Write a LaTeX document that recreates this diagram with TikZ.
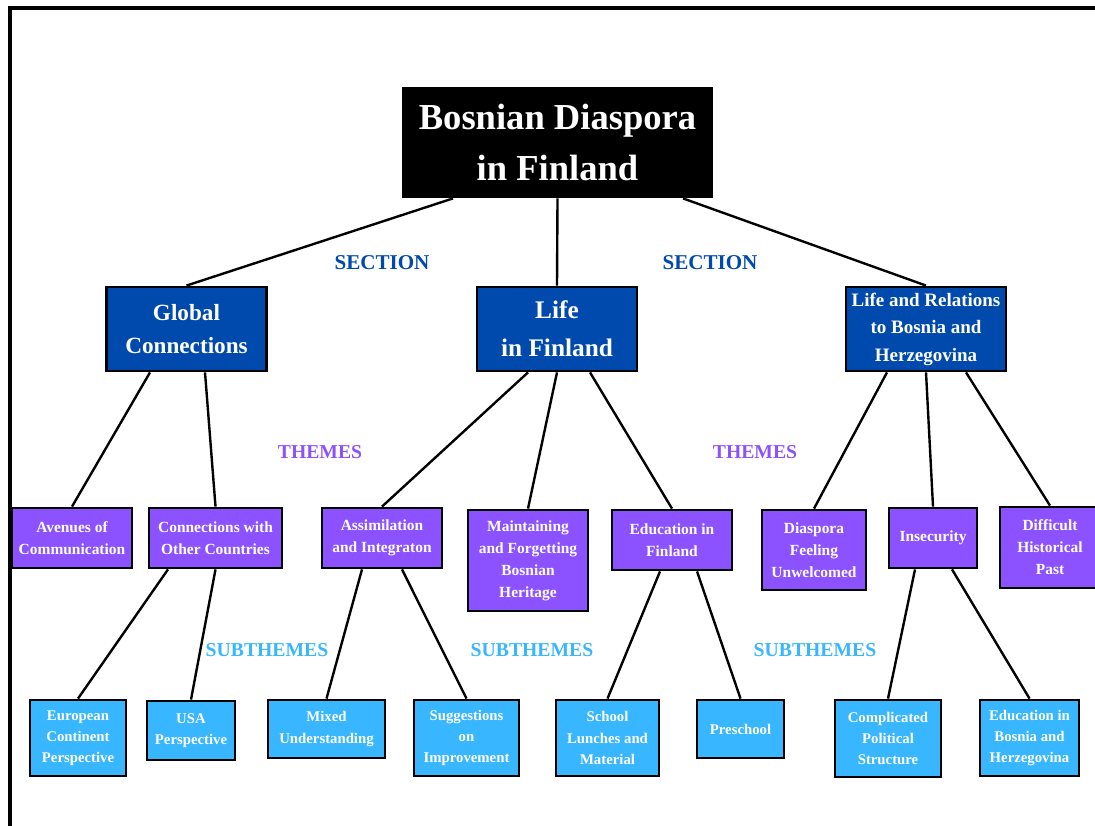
\documentclass[tikz,border=0pt]{standalone}
\usepackage{fontspec}
\setmainfont{Liberation Serif}
\usepackage{tikz}
\usetikzlibrary{positioning}
\definecolor{secblue}{HTML}{004AAD}
\definecolor{thpurple}{HTML}{8C52FF}
\definecolor{subblue}{HTML}{38B6FF}
\tikzstyle{box}       = [draw=black, line width=2pt, inner sep=0pt, align=center, text=white]
\tikzstyle{topbox}    = [box, fill=black, font=\bfseries\fontsize{26}{36}\selectfont]
\tikzstyle{section}   = [box, fill=secblue]
\tikzstyle{theme}     = [box, fill=thpurple, font=\bfseries\fontsize{11}{15.6}\selectfont]
\tikzstyle{subtheme}  = [box, fill=subblue, font=\bfseries\fontsize{10.5}{15}\selectfont]
\tikzstyle{edge}      = [line width=1.7pt]
\tikzstyle{level}     = [font=\bfseries\fontsize{14}{16}\selectfont]

\begin{document}
\begin{tikzpicture}[x=0.025cm, y=-0.025cm]

\useasboundingbox (0,0) rectangle (1095,826);
\fill[white] (0,0) rectangle (1095,826);
\draw[line width=2.4pt] (10,830) -- (10,8) -- (1100,8);

% root
\node[topbox, minimum width=7.725cm, minimum height=2.725cm] (R) at (557.5,142.5) {Bosnian Diaspora\\in Finland};

% sections
\node[section, minimum width=4cm, minimum height=2.1cm, font=\bfseries\fontsize{16.5}{23.5}\selectfont] (S1) at (186.5,329) {Global\\Connections};
\node[section, minimum width=4cm, minimum height=2.1cm, font=\bfseries\fontsize{18}{27}\selectfont] (S2) at (557,329) {Life\\in Finland};
\node[section, minimum width=4cm, minimum height=2.1cm, font=\bfseries\fontsize{13.5}{19.6}\selectfont] (S3) at (926,329) {Life and Relations\\to Bosnia and\\Herzegovina};

% themes
\node[theme, minimum width=3cm, minimum height=1.5cm] (T1) at (72,538) {Avenues of\\Communication};
\node[theme, minimum width=3.325cm, minimum height=1.5cm] (T2) at (215.5,538) {Connections with\\Other Countries};
\node[theme, minimum width=3cm, minimum height=1.5cm] (T3) at (382,538) {Assimilation\\and Integraton};
\node[theme, minimum width=3cm, minimum height=2.525cm] (T4) at (528,560.5) {Maintaining\\and Forgetting\\Bosnian\\Heritage};
\node[theme, minimum width=3cm, minimum height=1.5cm] (T5) at (672,540) {Education in\\Finland};
\node[theme, minimum width=2.6cm, minimum height=2cm] (T6) at (814,550) {Diaspora\\Feeling\\Unwelcomed};
\node[theme, minimum width=2.2cm, minimum height=1.5cm] (T7) at (933,538) {Insecurity};
\node[theme, minimum width=2.5cm, minimum height=2.025cm] (T8) at (1050,547.5) {Difficult\\Historical\\Past};

% subthemes
\node[subtheme, minimum width=2.4cm, minimum height=1.9cm] (U1) at (78,738) {European\\Continent\\Perspective};
\node[subtheme, minimum width=2.2cm, minimum height=1.475cm] (U2) at (191,730.5) {USA\\Perspective};
\node[subtheme, minimum width=2.925cm, minimum height=1.45cm] (U3) at (326.5,729) {Mixed\\Understanding};
\node[subtheme, minimum width=2.625cm, minimum height=1.9cm] (U4) at (466.5,738) {Suggestions\\on\\Improvement};
\node[subtheme, minimum width=2.575cm, minimum height=1.9cm] (U5) at (607.5,738) {School\\Lunches and\\Material};
\node[subtheme, minimum width=2.175cm, minimum height=1.45cm] (U6) at (740.5,729) {Preschool};
\node[subtheme, minimum width=2.65cm, minimum height=1.925cm] (U7) at (888,738.5) {Complicated\\Political\\Structure};
\node[subtheme, minimum width=2.475cm, minimum height=1.9cm] (U8) at (1029.5,738) {Education in\\Bosnia and\\Herzegovina};

% level labels
\node[level, text=secblue, font=\bfseries\fontsize{15}{17}\selectfont] (L1) at (382,263) {SECTION};
\node[level, text=secblue, font=\bfseries\fontsize{15}{17}\selectfont] (L2) at (710,263) {SECTION};
\node[level, text=thpurple] (L3) at (320,452) {THEMES};
\node[level, text=thpurple] (L4) at (755,452) {THEMES};
\node[level, text=subblue] (L5) at (267,650) {SUBTHEMES};
\node[level, text=subblue] (L6) at (532,650) {SUBTHEMES};
\node[level, text=subblue] (L7) at (815,650) {SUBTHEMES};

\draw[edge] ([xshift=-2.6125cm]R.south) -- (S1.north);
\draw[edge] (R.south) -- (S2.north);
\draw[edge] ([xshift=3.1375cm]R.south) -- (S3.north);

\draw[edge] ([xshift=-0.9125cm]S1.south) -- (T1.north);
\draw[edge] ([xshift=0.4625cm]S1.south) -- (T2.north);
\draw[edge] ([xshift=-0.725cm]S2.south) -- (T3.north);
\draw[edge] (S2.south) -- (T4.north);
\draw[edge] ([xshift=0.825cm]S2.south) -- (T5.north);
\draw[edge] ([xshift=-0.975cm]S3.south) -- (T6.north);
\draw[edge] (S3.south) -- (T7.north);
\draw[edge] ([xshift=1cm]S3.south) -- (T8.north);

\draw[edge] ([xshift=-1.1875cm]T2.south) -- (U1.north);
\draw[edge] (T2.south) -- (U2.north);
\draw[edge] ([xshift=-0.5cm]T3.south) -- (U3.north);
\draw[edge] ([xshift=0.5cm]T3.south) -- (U4.north);
\draw[edge] ([xshift=-0.3cm]T5.south) -- (U5.north);
\draw[edge] ([xshift=0.625cm]T5.south) -- (U6.north);
\draw[edge] ([xshift=-0.45cm]T7.south) -- (U7.north);
\draw[edge] ([xshift=0.475cm]T7.south) -- (U8.north);

\end{tikzpicture}
\end{document}
